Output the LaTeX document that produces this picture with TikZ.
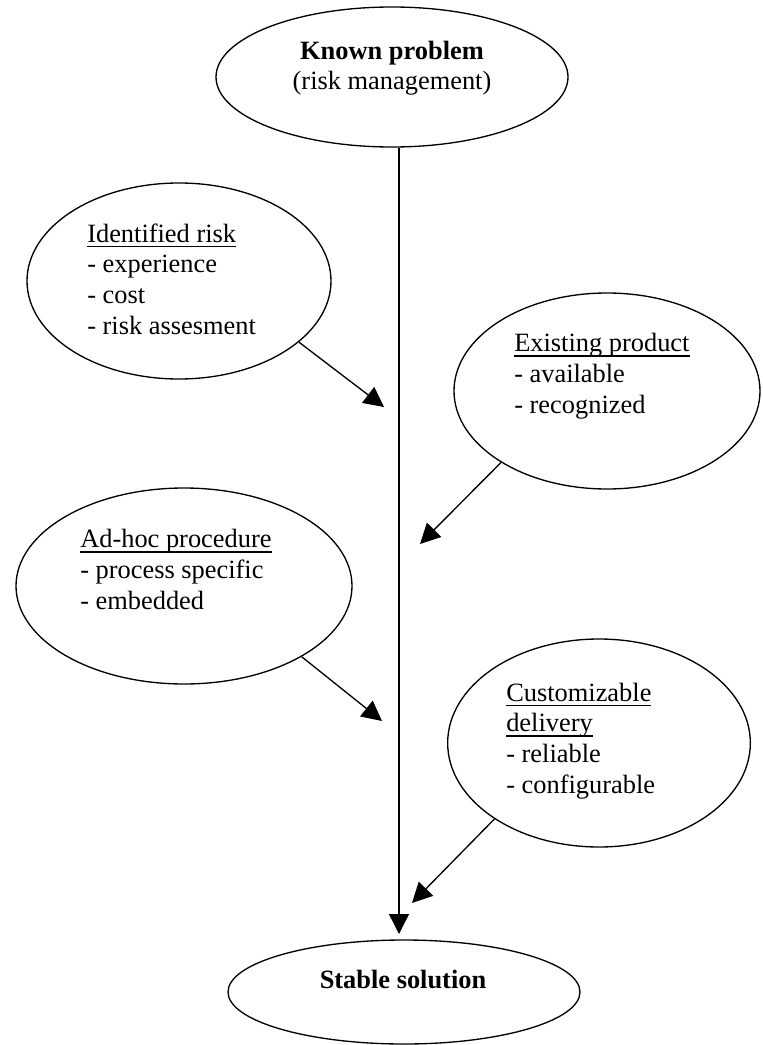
\documentclass[tikz,border=0pt]{standalone}
\usepackage{fontspec}
\setmainfont{Liberation Serif}
\usetikzlibrary{arrows.meta,positioning,shapes.geometric}
\newsavebox{\ulbox}
\newcommand{\ulin}[1]{\sbox{\ulbox}{#1}\rlap{\rule[-3.5pt]{\wd\ulbox}{1.1pt}}\usebox{\ulbox}}
\tikzset{oval/.style={ellipse,draw,line width=1pt,inner sep=0pt},
  flow/.style={-{Triangle[length=15pt,width=15pt]},line width=1pt},
  txt/.style={align=left,inner sep=0pt,anchor=base west,font=\fontsize{19.8}{22.9}\selectfont}}

\begin{document}
\begin{tikzpicture}[x=0.75pt,y=-0.75pt]
\useasboundingbox (0,0) rectangle (763,1045);
% text nodes are pinned at the baseline of their last line
\node[oval,minimum width=264pt,minimum height=105pt] (known) at (392,77) {};
\node[txt,align=center,anchor=base] (known-t) at (392,90)
 {\textbf{Known problem}\\(risk management)};
\node[oval,minimum width=228pt,minimum height=147pt] (irisk) at (179,281) {};
\node[txt] (irisk-t) at (87,334)
 {\ulin{Identified risk}\\- experience\\- cost\\- risk assesment};
\node[oval,minimum width=229.5pt,minimum height=147pt] (exist) at (607,391) {};
\node[txt] (exist-t) at (514,413)
 {\ulin{Existing product}\\- available\\- recognized};
\node[oval,minimum width=252pt,minimum height=147pt] (adhoc) at (184,586) {};
\node[txt] (adhoc-t) at (80,609)
 {\ulin{Ad-hoc procedure}\\- process specific\\- embedded};
\node[oval,minimum width=227pt,minimum height=156pt] (custom) at (599,743) {};
\node[txt] (custom-t) at (506,793)
 {\ulin{Customizable}\\\ulin{delivery}\\- reliable\\- configurable};
\node[oval,minimum width=264pt,minimum height=78pt] (stable) at (404,992) {};
\node[txt,anchor=base] (stable-t) at (403,988) {\textbf{Stable solution}};
\coordinate (t1) at (384,407);
\coordinate (t2) at (420,544);
\coordinate (t3) at (382,721);
\coordinate (t4) at (412,903);
\coordinate (t5) at (399,934);
\draw[flow] (t5 |- known.south)--(t5);
\draw[flow] (irisk.-27)--(t1);
\draw[flow] (exist.-146)--(t2);
\draw[flow] (adhoc.-31)--(t3);
\draw[flow] (custom.-144)--(t4);
\end{tikzpicture}
\end{document}
